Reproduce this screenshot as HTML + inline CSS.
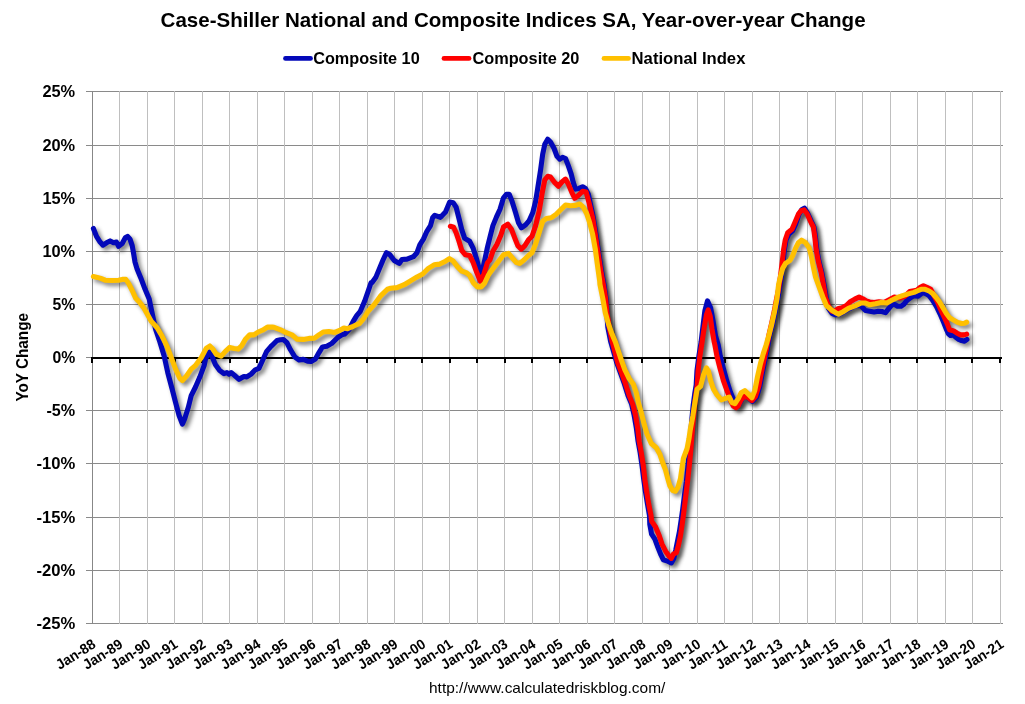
<!DOCTYPE html>
<html lang="en"><head><meta charset="utf-8"><title>Case-Shiller National and Composite Indices SA, Year-over-year Change</title>
<style>html,body{margin:0;padding:0;background:#fff}body{width:1025px;height:704px;overflow:hidden}svg{display:block}text{font-family:"Liberation Sans", Arial, sans-serif;fill:#000}.b{font-weight:bold}</style></head><body>
<svg width="1025" height="704" viewBox="0 0 1025 704">
<defs><filter id="sh" x="-5%" y="-5%" width="110%" height="110%" filterUnits="objectBoundingBox"><feGaussianBlur in="SourceAlpha" stdDeviation="2.0"/><feOffset dx="3" dy="3" result="o"/><feFlood flood-color="#000" flood-opacity="0.5"/><feComposite in2="o" operator="in"/></filter></defs>
<rect width="1025" height="704" fill="#fff"/>
<path d="M86,91.5H1003 M86,145.5H1003 M86,198.5H1003 M86,251.5H1003 M86,304.5H1003 M86,410.5H1003 M86,463.5H1003 M86,517.5H1003 M86,570.5H1003 M86,623.5H1003 M86,357.5H92" stroke="#8a8a8a" stroke-width="1" fill="none"/>
<path d="M119.5,91V624 M147.5,91V624 M174.5,91V624 M202.5,91V624 M229.5,91V624 M257.5,91V624 M284.5,91V624 M312.5,91V624 M339.5,91V624 M367.5,91V624 M394.5,91V624 M422.5,91V624 M449.5,91V624 M477.5,91V624 M504.5,91V624 M532.5,91V624 M559.5,91V624 M587.5,91V624 M614.5,91V624 M642.5,91V624 M669.5,91V624 M697.5,91V624 M724.5,91V624 M752.5,91V624 M779.5,91V624 M807.5,91V624 M835.5,91V624 M862.5,91V624 M890.5,91V624 M917.5,91V624 M945.5,91V624 M972.5,91V624 M1000.5,91V624" stroke="#bfbfbf" stroke-width="1" fill="none"/>
<path d="M92.5,91V624" stroke="#878787" stroke-width="1" fill="none"/>
<path d="M91,358H1002 M92,358V363 M120,358V363 M147,358V363 M175,358V363 M202,358V363 M230,358V363 M257,358V363 M285,358V363 M312,358V363 M340,358V363 M367,358V363 M395,358V363 M422,358V363 M450,358V363 M477,358V363 M505,358V363 M532,358V363 M560,358V363 M587,358V363 M615,358V363 M642,358V363 M670,358V363 M697,358V363 M725,358V363 M752,358V363 M780,358V363 M807,358V363 M835,358V363 M862,358V363 M890,358V363 M917,358V363 M945,358V363 M972,358V363 M1000,358V363" stroke="#000" stroke-width="2" fill="none"/>
<path d="M93.4,228.5 L96.5,236.4 L100.1,242.1 L103.0,245.2 L106.5,242.8 L110.1,240.9 L113.6,242.8 L116.5,242.1 L118.6,246.3 L122.2,243.5 L125.3,237.8 L127.6,236.4 L130.0,239.2 L132.2,245.6 L133.6,253.5 L135.0,262.0 L137.1,269.1 L140.7,277.7 L145.0,289.1 L149.2,299.0 L152.8,316.4 L155.6,329.2 L159.9,342.0 L164.2,356.2 L167.8,372.8 L172.0,388.5 L175.6,402.7 L179.1,415.5 L182.4,424.1 L184.8,418.4 L188.4,407.0 L191.2,395.6 L195.5,387.0 L199.8,377.1 L204.1,365.7 L205.5,359.1 L209.1,352.0 L211.9,356.2 L215.5,364.8 L219.7,370.5 L224.0,373.6 L226.9,372.6 L229.0,374.1 L231.1,372.6 L234.7,375.5 L239.0,379.3 L243.9,376.5 L246.8,376.9 L251.1,374.1 L255.3,369.8 L258.9,368.4 L262.5,360.5 L266.7,351.3 L271.0,346.3 L272.0,345.5 L277.0,340.5 L280.5,339.8 L283.4,339.5 L286.9,342.6 L290.5,349.8 L294.8,356.9 L299.0,360.0 L303.3,359.4 L307.6,361.2 L311.1,361.4 L315.4,359.0 L319.0,352.6 L322.5,346.9 L326.8,346.2 L331.8,343.4 L337.5,337.7 L341.8,334.8 L344.6,334.1 L348.9,329.8 L353.2,321.3 L356.7,315.6 L360.3,311.3 L364.6,301.3 L368.1,291.4 L371.0,282.8 L372.1,282.6 L375.7,277.6 L379.2,269.1 L382.8,260.5 L386.4,252.7 L389.9,254.8 L394.2,260.5 L399.2,263.4 L402.0,259.5 L407.0,259.1 L413.4,256.7 L417.0,252.7 L419.8,244.8 L423.4,239.1 L426.9,231.3 L430.5,225.6 L432.6,217.8 L434.8,215.3 L440.5,217.3 L445.5,212.1 L449.7,202.1 L453.3,202.8 L456.1,207.1 L459.0,218.5 L461.8,229.9 L464.7,238.4 L469.7,241.3 L473.2,248.4 L476.8,259.8 L481.1,276.2 L483.9,264.1 L487.5,247.0 L490.0,237.0 L492.9,225.6 L496.4,217.1 L500.0,209.2 L503.5,197.8 L506.4,194.3 L509.2,194.3 L512.1,201.4 L515.6,212.8 L518.5,222.8 L521.3,227.8 L525.6,224.9 L529.2,220.6 L532.7,212.8 L535.6,201.4 L537.7,188.4 L540.6,169.8 L542.7,154.2 L544.8,144.2 L547.7,139.2 L550.5,142.1 L554.1,148.5 L557.0,156.3 L559.8,159.2 L562.6,157.3 L565.5,158.5 L568.3,165.6 L571.2,174.1 L573.3,182.7 L575.5,189.1 L579.0,188.4 L582.6,186.7 L585.4,188.4 L588.3,194.1 L590.4,204.0 L592.6,214.0 L593.4,218.5 L596.1,235.6 L598.8,254.1 L601.7,272.6 L603.9,284.2 L606.0,298.5 L606.9,312.7 L607.8,327.0 L610.6,341.2 L616.8,362.8 L620.9,374.2 L624.5,384.2 L628.0,395.6 L631.6,404.1 L634.2,415.5 L636.4,428.3 L638.1,441.4 L640.2,452.8 L642.2,467.0 L643.8,479.9 L645.6,492.7 L647.5,504.1 L649.5,515.5 L649.8,524.2 L651.6,534.2 L654.9,539.1 L657.8,547.0 L660.6,554.1 L663.4,559.8 L667.7,561.2 L671.3,562.9 L673.8,558.4 L675.8,549.8 L677.5,541.3 L679.5,531.3 L681.2,519.9 L682.8,508.5 L684.2,497.1 L686.4,481.3 L688.3,462.8 L689.5,450.0 L690.6,435.0 L691.8,420.0 L693.2,405.0 L694.7,394.0 L696.2,384.8 L697.0,370.5 L698.9,356.2 L701.1,342.0 L702.8,327.7 L704.9,310.6 L707.5,300.9 L710.6,307.8 L713.0,320.6 L715.6,336.3 L718.2,345.0 L720.3,356.4 L723.2,367.8 L726.7,380.6 L730.3,392.0 L733.6,399.8 L736.7,405.5 L739.1,404.1 L742.0,399.1 L744.8,395.6 L748.7,398.0 L752.4,401.3 L756.6,397.0 L759.8,386.3 L762.2,373.5 L764.8,360.7 L767.5,347.9 L769.8,334.9 L772.7,323.5 L775.5,310.6 L777.6,299.2 L779.3,289.7 L781.5,275.5 L783.2,261.2 L784.4,249.8 L786.1,239.8 L788.9,234.2 L792.8,230.6 L795.7,223.9 L799.0,214.5 L801.7,209.7 L804.4,208.1 L807.4,212.8 L810.9,220.6 L813.9,227.0 L815.4,237.0 L816.8,249.8 L818.9,261.2 L821.8,272.6 L823.9,284.0 L826.1,297.0 L828.5,308.4 L832.0,313.4 L835.6,314.8 L839.2,314.1 L842.7,312.7 L848.4,309.1 L855.5,305.8 L860.5,305.6 L862.7,307.7 L865.5,310.5 L869.8,311.2 L874.1,312.0 L878.3,311.2 L881.9,311.5 L885.5,312.7 L888.3,309.1 L891.2,305.6 L894.0,304.1 L897.6,306.3 L901.1,306.3 L904.0,304.1 L906.8,300.6 L910.4,297.7 L914.0,295.6 L918.3,296.1 L921.1,293.8 L923.4,292.7 L926.2,293.8 L929.1,295.6 L932.6,300.1 L936.4,306.4 L940.0,313.8 L943.4,321.8 L946.6,329.8 L948.4,333.8 L950.5,335.5 L953.1,334.9 L955.9,337.2 L958.8,339.5 L961.6,340.6 L964.5,341.2 L966.9,339.5" stroke="#000" stroke-width="5.1" fill="none" stroke-linejoin="round" stroke-linecap="round" filter="url(#sh)"/>
<path d="M450.4,226.3 L453.6,227.3 L456.1,232.7 L459.0,241.3 L461.8,250.5 L465.4,254.8 L469.7,255.5 L473.2,262.6 L476.8,272.6 L480.4,281.2 L483.9,274.0 L487.5,262.6 L490.0,259.8 L492.9,251.2 L497.1,244.1 L500.7,235.6 L503.5,227.0 L507.8,224.2 L511.4,229.2 L514.9,238.4 L517.8,245.6 L521.3,249.1 L524.9,245.6 L528.5,239.8 L532.0,236.3 L535.6,225.6 L539.1,211.4 L542.0,194.1 L544.8,179.8 L547.7,176.3 L550.5,177.0 L554.8,182.7 L558.4,186.2 L561.9,182.0 L565.5,179.1 L568.3,184.1 L571.9,192.6 L574.8,198.3 L578.3,195.5 L582.6,191.2 L586.1,191.9 L589.0,202.6 L592.8,218.5 L595.5,235.6 L598.2,254.1 L601.1,272.6 L603.3,284.2 L605.6,298.5 L606.9,312.7 L609.2,327.0 L612.0,341.2 L617.8,362.8 L622.0,374.2 L625.6,384.2 L629.2,395.6 L632.7,404.1 L635.6,415.5 L637.7,428.3 L639.2,441.4 L641.3,452.8 L643.5,467.0 L644.9,479.9 L646.8,492.7 L648.7,504.1 L651.0,515.5 L651.6,521.3 L655.6,527.0 L659.2,535.6 L662.0,544.1 L665.6,551.2 L669.1,556.2 L671.3,558.4 L673.4,554.1 L676.3,552.7 L678.4,545.5 L680.5,535.6 L682.2,524.2 L683.7,512.8 L685.1,501.4 L687.6,481.3 L689.6,462.8 L690.8,450.0 L692.0,435.0 L693.2,420.0 L694.6,405.0 L696.0,394.0 L697.3,384.8 L698.1,370.5 L699.9,356.2 L702.1,342.0 L704.2,327.7 L706.4,314.9 L708.2,309.9 L710.2,316.3 L712.0,329.2 L714.2,342.0 L714.9,345.0 L717.0,356.4 L719.9,367.8 L723.4,380.6 L727.0,390.6 L730.6,400.6 L733.4,406.2 L735.8,407.7 L738.4,405.5 L741.2,399.8 L744.4,396.0 L748.4,397.7 L751.9,400.6 L755.5,396.3 L758.8,386.3 L761.2,373.5 L763.8,360.7 L766.6,347.9 L769.0,334.9 L771.6,323.5 L774.4,310.6 L776.5,299.2 L778.5,289.7 L780.6,275.5 L782.3,261.2 L783.6,249.8 L785.3,239.8 L787.7,232.7 L792.0,229.2 L794.8,222.8 L798.4,214.2 L801.2,210.7 L804.1,209.9 L807.0,213.5 L810.5,221.3 L813.4,227.0 L814.8,237.0 L816.2,249.8 L818.3,261.2 L821.2,272.6 L823.3,284.0 L825.4,297.0 L828.5,306.3 L832.0,311.2 L835.6,310.5 L838.5,308.4 L842.0,307.7 L846.3,305.6 L849.9,302.0 L854.8,299.1 L859.1,297.0 L862.7,298.7 L866.2,301.0 L869.8,301.9 L874.1,302.6 L879.0,301.7 L884.0,302.6 L888.3,300.3 L894.0,297.1 L899.7,298.1 L904.7,296.4 L909.7,291.6 L914.0,290.7 L916.5,290.4 L920.0,287.6 L923.4,285.7 L926.8,287.3 L930.8,289.3 L934.2,296.1 L937.7,302.4 L941.1,310.4 L944.5,317.8 L947.4,324.1 L949.6,329.8 L953.6,330.9 L957.1,333.2 L960.5,334.9 L963.9,334.9 L966.7,334.1" stroke="#000" stroke-width="5.1" fill="none" stroke-linejoin="round" stroke-linecap="round" filter="url(#sh)"/>
<path d="M93.4,276.5 L97.3,277.4 L100.8,278.4 L105.1,280.2 L112.2,280.5 L118.6,280.2 L122.2,279.4 L125.8,279.4 L128.6,283.4 L132.2,290.5 L135.7,298.3 L139.3,301.9 L143.6,307.6 L151.4,321.4 L157.1,327.8 L162.1,336.3 L167.0,346.3 L171.3,357.7 L175.6,369.1 L179.8,378.3 L182.4,380.5 L186.3,376.2 L191.2,369.1 L195.5,365.5 L201.2,357.7 L206.2,348.4 L209.8,346.0 L212.6,348.8 L216.2,354.1 L221.2,356.2 L225.4,351.3 L229.7,347.4 L234.0,348.4 L238.2,349.1 L241.8,345.6 L245.4,339.2 L249.7,334.9 L253.9,334.9 L258.2,332.0 L263.2,329.9 L267.4,327.1 L272.4,327.1 L274.1,327.3 L280.5,329.8 L286.2,332.7 L291.9,334.8 L296.9,339.1 L303.3,339.4 L309.0,338.4 L314.7,338.1 L319.0,334.8 L323.2,332.0 L328.9,331.5 L334.6,332.4 L339.6,330.5 L343.9,328.1 L347.5,328.7 L353.2,326.3 L359.6,323.4 L363.8,318.4 L368.1,311.3 L374.5,304.2 L380.9,295.6 L387.4,289.2 L390.6,288.3 L397.0,287.6 L404.2,284.7 L411.3,280.4 L417.0,276.9 L422.7,274.0 L428.4,268.3 L434.1,264.8 L439.8,264.1 L445.5,261.2 L449.4,258.7 L453.3,261.2 L457.6,266.9 L461.8,271.2 L466.1,272.6 L469.7,275.5 L473.2,282.6 L477.5,286.9 L481.1,286.9 L484.6,283.3 L488.2,275.5 L490.0,272.6 L494.3,266.9 L498.6,261.2 L503.5,254.8 L508.5,253.4 L512.1,257.7 L516.4,262.6 L519.9,263.4 L524.2,259.8 L528.5,255.5 L532.0,252.7 L535.6,244.1 L539.1,232.7 L542.7,221.3 L546.3,218.5 L551.2,217.8 L556.2,214.2 L561.2,209.2 L565.5,205.0 L570.5,205.7 L575.5,205.4 L579.7,204.0 L583.3,207.1 L586.9,214.2 L589.7,222.8 L592.6,234.2 L595.4,249.8 L597.5,265.5 L599.7,281.2 L599.9,284.2 L602.8,298.5 L605.3,312.7 L608.5,324.1 L612.0,334.1 L615.6,342.6 L618.4,351.2 L621.3,359.9 L624.9,369.9 L629.2,378.5 L633.4,384.2 L636.3,392.7 L638.4,402.7 L641.3,412.6 L644.1,424.0 L647.0,434.0 L651.3,443.5 L656.3,447.8 L659.9,454.2 L662.7,462.8 L665.5,469.9 L667.7,478.4 L669.8,485.6 L672.7,490.5 L675.5,491.2 L678.1,487.0 L680.5,478.4 L681.9,468.5 L683.4,458.5 L687.1,448.5 L689.0,438.6 L690.2,430.0 L692.8,416.2 L695.0,402.0 L697.1,389.2 L700.6,386.3 L703.5,374.9 L706.4,367.8 L708.5,371.4 L710.6,380.6 L713.5,389.2 L717.0,394.9 L721.3,399.8 L725.6,398.4 L729.1,397.0 L732.0,402.7 L734.8,403.7 L738.4,398.4 L741.2,392.7 L744.8,390.6 L748.4,394.1 L751.9,397.7 L754.8,390.6 L757.6,376.3 L760.5,363.5 L763.3,353.6 L766.2,344.8 L769.0,334.9 L771.9,323.5 L774.7,310.6 L776.9,299.2 L778.7,284.0 L780.7,275.5 L782.7,268.3 L785.6,263.4 L789.9,260.5 L792.7,255.5 L795.5,248.4 L798.4,242.7 L801.5,240.1 L805.5,242.7 L809.1,247.7 L811.2,255.5 L813.4,266.9 L815.5,276.9 L818.3,284.7 L822.8,297.0 L826.4,305.6 L831.3,309.8 L835.6,312.7 L838.5,314.1 L842.7,312.0 L848.4,308.4 L855.5,305.6 L861.2,303.0 L865.5,303.0 L869.8,304.8 L875.5,303.8 L881.2,302.4 L886.9,303.0 L891.2,300.6 L896.9,297.7 L902.6,295.6 L908.2,293.9 L914.0,292.4 L917.1,291.0 L921.1,289.3 L925.1,289.3 L929.1,291.0 L932.5,293.3 L936.0,297.3 L939.4,301.8 L942.8,307.5 L946.2,313.2 L949.6,317.8 L953.6,320.1 L957.6,322.4 L961.6,323.5 L964.5,323.2 L966.7,322.1" stroke="#000" stroke-width="5.1" fill="none" stroke-linejoin="round" stroke-linecap="round" filter="url(#sh)"/>
<path d="M93.4,228.5 L96.5,236.4 L100.1,242.1 L103.0,245.2 L106.5,242.8 L110.1,240.9 L113.6,242.8 L116.5,242.1 L118.6,246.3 L122.2,243.5 L125.3,237.8 L127.6,236.4 L130.0,239.2 L132.2,245.6 L133.6,253.5 L135.0,262.0 L137.1,269.1 L140.7,277.7 L145.0,289.1 L149.2,299.0 L152.8,316.4 L155.6,329.2 L159.9,342.0 L164.2,356.2 L167.8,372.8 L172.0,388.5 L175.6,402.7 L179.1,415.5 L182.4,424.1 L184.8,418.4 L188.4,407.0 L191.2,395.6 L195.5,387.0 L199.8,377.1 L204.1,365.7 L205.5,359.1 L209.1,352.0 L211.9,356.2 L215.5,364.8 L219.7,370.5 L224.0,373.6 L226.9,372.6 L229.0,374.1 L231.1,372.6 L234.7,375.5 L239.0,379.3 L243.9,376.5 L246.8,376.9 L251.1,374.1 L255.3,369.8 L258.9,368.4 L262.5,360.5 L266.7,351.3 L271.0,346.3 L272.0,345.5 L277.0,340.5 L280.5,339.8 L283.4,339.5 L286.9,342.6 L290.5,349.8 L294.8,356.9 L299.0,360.0 L303.3,359.4 L307.6,361.2 L311.1,361.4 L315.4,359.0 L319.0,352.6 L322.5,346.9 L326.8,346.2 L331.8,343.4 L337.5,337.7 L341.8,334.8 L344.6,334.1 L348.9,329.8 L353.2,321.3 L356.7,315.6 L360.3,311.3 L364.6,301.3 L368.1,291.4 L371.0,282.8 L372.1,282.6 L375.7,277.6 L379.2,269.1 L382.8,260.5 L386.4,252.7 L389.9,254.8 L394.2,260.5 L399.2,263.4 L402.0,259.5 L407.0,259.1 L413.4,256.7 L417.0,252.7 L419.8,244.8 L423.4,239.1 L426.9,231.3 L430.5,225.6 L432.6,217.8 L434.8,215.3 L440.5,217.3 L445.5,212.1 L449.7,202.1 L453.3,202.8 L456.1,207.1 L459.0,218.5 L461.8,229.9 L464.7,238.4 L469.7,241.3 L473.2,248.4 L476.8,259.8 L481.1,276.2 L483.9,264.1 L487.5,247.0 L490.0,237.0 L492.9,225.6 L496.4,217.1 L500.0,209.2 L503.5,197.8 L506.4,194.3 L509.2,194.3 L512.1,201.4 L515.6,212.8 L518.5,222.8 L521.3,227.8 L525.6,224.9 L529.2,220.6 L532.7,212.8 L535.6,201.4 L537.7,188.4 L540.6,169.8 L542.7,154.2 L544.8,144.2 L547.7,139.2 L550.5,142.1 L554.1,148.5 L557.0,156.3 L559.8,159.2 L562.6,157.3 L565.5,158.5 L568.3,165.6 L571.2,174.1 L573.3,182.7 L575.5,189.1 L579.0,188.4 L582.6,186.7 L585.4,188.4 L588.3,194.1 L590.4,204.0 L592.6,214.0 L593.4,218.5 L596.1,235.6 L598.8,254.1 L601.7,272.6 L603.9,284.2 L606.0,298.5 L606.9,312.7 L607.8,327.0 L610.6,341.2 L616.8,362.8 L620.9,374.2 L624.5,384.2 L628.0,395.6 L631.6,404.1 L634.2,415.5 L636.4,428.3 L638.1,441.4 L640.2,452.8 L642.2,467.0 L643.8,479.9 L645.6,492.7 L647.5,504.1 L649.5,515.5 L649.8,524.2 L651.6,534.2 L654.9,539.1 L657.8,547.0 L660.6,554.1 L663.4,559.8 L667.7,561.2 L671.3,562.9 L673.8,558.4 L675.8,549.8 L677.5,541.3 L679.5,531.3 L681.2,519.9 L682.8,508.5 L684.2,497.1 L686.4,481.3 L688.3,462.8 L689.5,450.0 L690.6,435.0 L691.8,420.0 L693.2,405.0 L694.7,394.0 L696.2,384.8 L697.0,370.5 L698.9,356.2 L701.1,342.0 L702.8,327.7 L704.9,310.6 L707.5,300.9 L710.6,307.8 L713.0,320.6 L715.6,336.3 L718.2,345.0 L720.3,356.4 L723.2,367.8 L726.7,380.6 L730.3,392.0 L733.6,399.8 L736.7,405.5 L739.1,404.1 L742.0,399.1 L744.8,395.6 L748.7,398.0 L752.4,401.3 L756.6,397.0 L759.8,386.3 L762.2,373.5 L764.8,360.7 L767.5,347.9 L769.8,334.9 L772.7,323.5 L775.5,310.6 L777.6,299.2 L779.3,289.7 L781.5,275.5 L783.2,261.2 L784.4,249.8 L786.1,239.8 L788.9,234.2 L792.8,230.6 L795.7,223.9 L799.0,214.5 L801.7,209.7 L804.4,208.1 L807.4,212.8 L810.9,220.6 L813.9,227.0 L815.4,237.0 L816.8,249.8 L818.9,261.2 L821.8,272.6 L823.9,284.0 L826.1,297.0 L828.5,308.4 L832.0,313.4 L835.6,314.8 L839.2,314.1 L842.7,312.7 L848.4,309.1 L855.5,305.8 L860.5,305.6 L862.7,307.7 L865.5,310.5 L869.8,311.2 L874.1,312.0 L878.3,311.2 L881.9,311.5 L885.5,312.7 L888.3,309.1 L891.2,305.6 L894.0,304.1 L897.6,306.3 L901.1,306.3 L904.0,304.1 L906.8,300.6 L910.4,297.7 L914.0,295.6 L918.3,296.1 L921.1,293.8 L923.4,292.7 L926.2,293.8 L929.1,295.6 L932.6,300.1 L936.4,306.4 L940.0,313.8 L943.4,321.8 L946.6,329.8 L948.4,333.8 L950.5,335.5 L953.1,334.9 L955.9,337.2 L958.8,339.5 L961.6,340.6 L964.5,341.2 L966.9,339.5" stroke="#0308b9" stroke-width="5.1" fill="none" stroke-linejoin="round" stroke-linecap="round"/>
<path d="M450.4,226.3 L453.6,227.3 L456.1,232.7 L459.0,241.3 L461.8,250.5 L465.4,254.8 L469.7,255.5 L473.2,262.6 L476.8,272.6 L480.4,281.2 L483.9,274.0 L487.5,262.6 L490.0,259.8 L492.9,251.2 L497.1,244.1 L500.7,235.6 L503.5,227.0 L507.8,224.2 L511.4,229.2 L514.9,238.4 L517.8,245.6 L521.3,249.1 L524.9,245.6 L528.5,239.8 L532.0,236.3 L535.6,225.6 L539.1,211.4 L542.0,194.1 L544.8,179.8 L547.7,176.3 L550.5,177.0 L554.8,182.7 L558.4,186.2 L561.9,182.0 L565.5,179.1 L568.3,184.1 L571.9,192.6 L574.8,198.3 L578.3,195.5 L582.6,191.2 L586.1,191.9 L589.0,202.6 L592.8,218.5 L595.5,235.6 L598.2,254.1 L601.1,272.6 L603.3,284.2 L605.6,298.5 L606.9,312.7 L609.2,327.0 L612.0,341.2 L617.8,362.8 L622.0,374.2 L625.6,384.2 L629.2,395.6 L632.7,404.1 L635.6,415.5 L637.7,428.3 L639.2,441.4 L641.3,452.8 L643.5,467.0 L644.9,479.9 L646.8,492.7 L648.7,504.1 L651.0,515.5 L651.6,521.3 L655.6,527.0 L659.2,535.6 L662.0,544.1 L665.6,551.2 L669.1,556.2 L671.3,558.4 L673.4,554.1 L676.3,552.7 L678.4,545.5 L680.5,535.6 L682.2,524.2 L683.7,512.8 L685.1,501.4 L687.6,481.3 L689.6,462.8 L690.8,450.0 L692.0,435.0 L693.2,420.0 L694.6,405.0 L696.0,394.0 L697.3,384.8 L698.1,370.5 L699.9,356.2 L702.1,342.0 L704.2,327.7 L706.4,314.9 L708.2,309.9 L710.2,316.3 L712.0,329.2 L714.2,342.0 L714.9,345.0 L717.0,356.4 L719.9,367.8 L723.4,380.6 L727.0,390.6 L730.6,400.6 L733.4,406.2 L735.8,407.7 L738.4,405.5 L741.2,399.8 L744.4,396.0 L748.4,397.7 L751.9,400.6 L755.5,396.3 L758.8,386.3 L761.2,373.5 L763.8,360.7 L766.6,347.9 L769.0,334.9 L771.6,323.5 L774.4,310.6 L776.5,299.2 L778.5,289.7 L780.6,275.5 L782.3,261.2 L783.6,249.8 L785.3,239.8 L787.7,232.7 L792.0,229.2 L794.8,222.8 L798.4,214.2 L801.2,210.7 L804.1,209.9 L807.0,213.5 L810.5,221.3 L813.4,227.0 L814.8,237.0 L816.2,249.8 L818.3,261.2 L821.2,272.6 L823.3,284.0 L825.4,297.0 L828.5,306.3 L832.0,311.2 L835.6,310.5 L838.5,308.4 L842.0,307.7 L846.3,305.6 L849.9,302.0 L854.8,299.1 L859.1,297.0 L862.7,298.7 L866.2,301.0 L869.8,301.9 L874.1,302.6 L879.0,301.7 L884.0,302.6 L888.3,300.3 L894.0,297.1 L899.7,298.1 L904.7,296.4 L909.7,291.6 L914.0,290.7 L916.5,290.4 L920.0,287.6 L923.4,285.7 L926.8,287.3 L930.8,289.3 L934.2,296.1 L937.7,302.4 L941.1,310.4 L944.5,317.8 L947.4,324.1 L949.6,329.8 L953.6,330.9 L957.1,333.2 L960.5,334.9 L963.9,334.9 L966.7,334.1" stroke="#ff0000" stroke-width="5.1" fill="none" stroke-linejoin="round" stroke-linecap="round"/>
<path d="M93.4,276.5 L97.3,277.4 L100.8,278.4 L105.1,280.2 L112.2,280.5 L118.6,280.2 L122.2,279.4 L125.8,279.4 L128.6,283.4 L132.2,290.5 L135.7,298.3 L139.3,301.9 L143.6,307.6 L151.4,321.4 L157.1,327.8 L162.1,336.3 L167.0,346.3 L171.3,357.7 L175.6,369.1 L179.8,378.3 L182.4,380.5 L186.3,376.2 L191.2,369.1 L195.5,365.5 L201.2,357.7 L206.2,348.4 L209.8,346.0 L212.6,348.8 L216.2,354.1 L221.2,356.2 L225.4,351.3 L229.7,347.4 L234.0,348.4 L238.2,349.1 L241.8,345.6 L245.4,339.2 L249.7,334.9 L253.9,334.9 L258.2,332.0 L263.2,329.9 L267.4,327.1 L272.4,327.1 L274.1,327.3 L280.5,329.8 L286.2,332.7 L291.9,334.8 L296.9,339.1 L303.3,339.4 L309.0,338.4 L314.7,338.1 L319.0,334.8 L323.2,332.0 L328.9,331.5 L334.6,332.4 L339.6,330.5 L343.9,328.1 L347.5,328.7 L353.2,326.3 L359.6,323.4 L363.8,318.4 L368.1,311.3 L374.5,304.2 L380.9,295.6 L387.4,289.2 L390.6,288.3 L397.0,287.6 L404.2,284.7 L411.3,280.4 L417.0,276.9 L422.7,274.0 L428.4,268.3 L434.1,264.8 L439.8,264.1 L445.5,261.2 L449.4,258.7 L453.3,261.2 L457.6,266.9 L461.8,271.2 L466.1,272.6 L469.7,275.5 L473.2,282.6 L477.5,286.9 L481.1,286.9 L484.6,283.3 L488.2,275.5 L490.0,272.6 L494.3,266.9 L498.6,261.2 L503.5,254.8 L508.5,253.4 L512.1,257.7 L516.4,262.6 L519.9,263.4 L524.2,259.8 L528.5,255.5 L532.0,252.7 L535.6,244.1 L539.1,232.7 L542.7,221.3 L546.3,218.5 L551.2,217.8 L556.2,214.2 L561.2,209.2 L565.5,205.0 L570.5,205.7 L575.5,205.4 L579.7,204.0 L583.3,207.1 L586.9,214.2 L589.7,222.8 L592.6,234.2 L595.4,249.8 L597.5,265.5 L599.7,281.2 L599.9,284.2 L602.8,298.5 L605.3,312.7 L608.5,324.1 L612.0,334.1 L615.6,342.6 L618.4,351.2 L621.3,359.9 L624.9,369.9 L629.2,378.5 L633.4,384.2 L636.3,392.7 L638.4,402.7 L641.3,412.6 L644.1,424.0 L647.0,434.0 L651.3,443.5 L656.3,447.8 L659.9,454.2 L662.7,462.8 L665.5,469.9 L667.7,478.4 L669.8,485.6 L672.7,490.5 L675.5,491.2 L678.1,487.0 L680.5,478.4 L681.9,468.5 L683.4,458.5 L687.1,448.5 L689.0,438.6 L690.2,430.0 L692.8,416.2 L695.0,402.0 L697.1,389.2 L700.6,386.3 L703.5,374.9 L706.4,367.8 L708.5,371.4 L710.6,380.6 L713.5,389.2 L717.0,394.9 L721.3,399.8 L725.6,398.4 L729.1,397.0 L732.0,402.7 L734.8,403.7 L738.4,398.4 L741.2,392.7 L744.8,390.6 L748.4,394.1 L751.9,397.7 L754.8,390.6 L757.6,376.3 L760.5,363.5 L763.3,353.6 L766.2,344.8 L769.0,334.9 L771.9,323.5 L774.7,310.6 L776.9,299.2 L778.7,284.0 L780.7,275.5 L782.7,268.3 L785.6,263.4 L789.9,260.5 L792.7,255.5 L795.5,248.4 L798.4,242.7 L801.5,240.1 L805.5,242.7 L809.1,247.7 L811.2,255.5 L813.4,266.9 L815.5,276.9 L818.3,284.7 L822.8,297.0 L826.4,305.6 L831.3,309.8 L835.6,312.7 L838.5,314.1 L842.7,312.0 L848.4,308.4 L855.5,305.6 L861.2,303.0 L865.5,303.0 L869.8,304.8 L875.5,303.8 L881.2,302.4 L886.9,303.0 L891.2,300.6 L896.9,297.7 L902.6,295.6 L908.2,293.9 L914.0,292.4 L917.1,291.0 L921.1,289.3 L925.1,289.3 L929.1,291.0 L932.5,293.3 L936.0,297.3 L939.4,301.8 L942.8,307.5 L946.2,313.2 L949.6,317.8 L953.6,320.1 L957.6,322.4 L961.6,323.5 L964.5,323.2 L966.7,322.1" stroke="#ffc000" stroke-width="5.1" fill="none" stroke-linejoin="round" stroke-linecap="round"/>
<text class="b" x="160.6" y="27" font-size="19.8" textLength="705" lengthAdjust="spacingAndGlyphs">Case-Shiller National and Composite Indices SA, Year-over-year Change</text>
<path d="M285.5,58.4H310.5" stroke="#0308b9" stroke-width="4.8" stroke-linecap="round"/>
<text class="b" x="313.2" y="63.8" font-size="16" textLength="106.5" lengthAdjust="spacingAndGlyphs">Composite 10</text>
<path d="M444,58.4H469" stroke="#ff0000" stroke-width="4.8" stroke-linecap="round"/>
<text class="b" x="472.4" y="63.8" font-size="16" textLength="107" lengthAdjust="spacingAndGlyphs">Composite 20</text>
<path d="M604,58.4H628.5" stroke="#ffc000" stroke-width="4.8" stroke-linecap="round"/>
<text class="b" x="631.6" y="63.8" font-size="16" textLength="113.8" lengthAdjust="spacingAndGlyphs">National Index</text>
<text class="b" x="42.4" y="97.2" font-size="16.2" textLength="32.8" lengthAdjust="spacingAndGlyphs">25%</text>
<text class="b" x="42.4" y="151.2" font-size="16.2" textLength="32.8" lengthAdjust="spacingAndGlyphs">20%</text>
<text class="b" x="42.4" y="204.2" font-size="16.2" textLength="32.8" lengthAdjust="spacingAndGlyphs">15%</text>
<text class="b" x="42.4" y="257.2" font-size="16.2" textLength="32.8" lengthAdjust="spacingAndGlyphs">10%</text>
<text class="b" x="52.4" y="310.2" font-size="16.2" textLength="22.8" lengthAdjust="spacingAndGlyphs">5%</text>
<text class="b" x="52.4" y="363.2" font-size="16.2" textLength="22.8" lengthAdjust="spacingAndGlyphs">0%</text>
<text class="b" x="46.4" y="416.2" font-size="16.2" textLength="28.8" lengthAdjust="spacingAndGlyphs">-5%</text>
<text class="b" x="36.4" y="469.2" font-size="16.2" textLength="38.8" lengthAdjust="spacingAndGlyphs">-10%</text>
<text class="b" x="36.4" y="523.2" font-size="16.2" textLength="38.8" lengthAdjust="spacingAndGlyphs">-15%</text>
<text class="b" x="36.4" y="576.2" font-size="16.2" textLength="38.8" lengthAdjust="spacingAndGlyphs">-20%</text>
<text class="b" x="36.4" y="629.2" font-size="16.2" textLength="38.8" lengthAdjust="spacingAndGlyphs">-25%</text>
<text class="b" transform="translate(27.8,401.6) rotate(-90)" font-size="15.6" textLength="88.6" lengthAdjust="spacingAndGlyphs">YoY Change</text>
<text class="b" transform="translate(96.6,646.7) rotate(-32.5)" text-anchor="end" font-size="14.4" textLength="43.6" lengthAdjust="spacingAndGlyphs">Jan-88</text>
<text class="b" transform="translate(123.6,646.7) rotate(-32.5)" text-anchor="end" font-size="14.4" textLength="43.6" lengthAdjust="spacingAndGlyphs">Jan-89</text>
<text class="b" transform="translate(151.6,646.7) rotate(-32.5)" text-anchor="end" font-size="14.4" textLength="43.6" lengthAdjust="spacingAndGlyphs">Jan-90</text>
<text class="b" transform="translate(178.6,646.7) rotate(-32.5)" text-anchor="end" font-size="14.4" textLength="43.6" lengthAdjust="spacingAndGlyphs">Jan-91</text>
<text class="b" transform="translate(206.6,646.7) rotate(-32.5)" text-anchor="end" font-size="14.4" textLength="43.6" lengthAdjust="spacingAndGlyphs">Jan-92</text>
<text class="b" transform="translate(233.6,646.7) rotate(-32.5)" text-anchor="end" font-size="14.4" textLength="43.6" lengthAdjust="spacingAndGlyphs">Jan-93</text>
<text class="b" transform="translate(261.6,646.7) rotate(-32.5)" text-anchor="end" font-size="14.4" textLength="43.6" lengthAdjust="spacingAndGlyphs">Jan-94</text>
<text class="b" transform="translate(288.6,646.7) rotate(-32.5)" text-anchor="end" font-size="14.4" textLength="43.6" lengthAdjust="spacingAndGlyphs">Jan-95</text>
<text class="b" transform="translate(316.6,646.7) rotate(-32.5)" text-anchor="end" font-size="14.4" textLength="43.6" lengthAdjust="spacingAndGlyphs">Jan-96</text>
<text class="b" transform="translate(343.6,646.7) rotate(-32.5)" text-anchor="end" font-size="14.4" textLength="43.6" lengthAdjust="spacingAndGlyphs">Jan-97</text>
<text class="b" transform="translate(371.6,646.7) rotate(-32.5)" text-anchor="end" font-size="14.4" textLength="43.6" lengthAdjust="spacingAndGlyphs">Jan-98</text>
<text class="b" transform="translate(398.6,646.7) rotate(-32.5)" text-anchor="end" font-size="14.4" textLength="43.6" lengthAdjust="spacingAndGlyphs">Jan-99</text>
<text class="b" transform="translate(426.6,646.7) rotate(-32.5)" text-anchor="end" font-size="14.4" textLength="43.6" lengthAdjust="spacingAndGlyphs">Jan-00</text>
<text class="b" transform="translate(453.6,646.7) rotate(-32.5)" text-anchor="end" font-size="14.4" textLength="43.6" lengthAdjust="spacingAndGlyphs">Jan-01</text>
<text class="b" transform="translate(481.6,646.7) rotate(-32.5)" text-anchor="end" font-size="14.4" textLength="43.6" lengthAdjust="spacingAndGlyphs">Jan-02</text>
<text class="b" transform="translate(508.6,646.7) rotate(-32.5)" text-anchor="end" font-size="14.4" textLength="43.6" lengthAdjust="spacingAndGlyphs">Jan-03</text>
<text class="b" transform="translate(536.6,646.7) rotate(-32.5)" text-anchor="end" font-size="14.4" textLength="43.6" lengthAdjust="spacingAndGlyphs">Jan-04</text>
<text class="b" transform="translate(563.6,646.7) rotate(-32.5)" text-anchor="end" font-size="14.4" textLength="43.6" lengthAdjust="spacingAndGlyphs">Jan-05</text>
<text class="b" transform="translate(591.6,646.7) rotate(-32.5)" text-anchor="end" font-size="14.4" textLength="43.6" lengthAdjust="spacingAndGlyphs">Jan-06</text>
<text class="b" transform="translate(618.6,646.7) rotate(-32.5)" text-anchor="end" font-size="14.4" textLength="43.6" lengthAdjust="spacingAndGlyphs">Jan-07</text>
<text class="b" transform="translate(646.6,646.7) rotate(-32.5)" text-anchor="end" font-size="14.4" textLength="43.6" lengthAdjust="spacingAndGlyphs">Jan-08</text>
<text class="b" transform="translate(673.6,646.7) rotate(-32.5)" text-anchor="end" font-size="14.4" textLength="43.6" lengthAdjust="spacingAndGlyphs">Jan-09</text>
<text class="b" transform="translate(701.6,646.7) rotate(-32.5)" text-anchor="end" font-size="14.4" textLength="43.6" lengthAdjust="spacingAndGlyphs">Jan-10</text>
<text class="b" transform="translate(728.6,646.7) rotate(-32.5)" text-anchor="end" font-size="14.4" textLength="43.6" lengthAdjust="spacingAndGlyphs">Jan-11</text>
<text class="b" transform="translate(756.6,646.7) rotate(-32.5)" text-anchor="end" font-size="14.4" textLength="43.6" lengthAdjust="spacingAndGlyphs">Jan-12</text>
<text class="b" transform="translate(783.6,646.7) rotate(-32.5)" text-anchor="end" font-size="14.4" textLength="43.6" lengthAdjust="spacingAndGlyphs">Jan-13</text>
<text class="b" transform="translate(811.6,646.7) rotate(-32.5)" text-anchor="end" font-size="14.4" textLength="43.6" lengthAdjust="spacingAndGlyphs">Jan-14</text>
<text class="b" transform="translate(839.6,646.7) rotate(-32.5)" text-anchor="end" font-size="14.4" textLength="43.6" lengthAdjust="spacingAndGlyphs">Jan-15</text>
<text class="b" transform="translate(866.6,646.7) rotate(-32.5)" text-anchor="end" font-size="14.4" textLength="43.6" lengthAdjust="spacingAndGlyphs">Jan-16</text>
<text class="b" transform="translate(894.6,646.7) rotate(-32.5)" text-anchor="end" font-size="14.4" textLength="43.6" lengthAdjust="spacingAndGlyphs">Jan-17</text>
<text class="b" transform="translate(921.6,646.7) rotate(-32.5)" text-anchor="end" font-size="14.4" textLength="43.6" lengthAdjust="spacingAndGlyphs">Jan-18</text>
<text class="b" transform="translate(949.6,646.7) rotate(-32.5)" text-anchor="end" font-size="14.4" textLength="43.6" lengthAdjust="spacingAndGlyphs">Jan-19</text>
<text class="b" transform="translate(976.6,646.7) rotate(-32.5)" text-anchor="end" font-size="14.4" textLength="43.6" lengthAdjust="spacingAndGlyphs">Jan-20</text>
<text class="b" transform="translate(1004.6,646.7) rotate(-32.5)" text-anchor="end" font-size="14.4" textLength="43.6" lengthAdjust="spacingAndGlyphs">Jan-21</text>
<text x="429" y="692.8" font-size="14.6" textLength="236.4" lengthAdjust="spacingAndGlyphs">http://www.calculatedriskblog.com/</text>
</svg></body></html>
